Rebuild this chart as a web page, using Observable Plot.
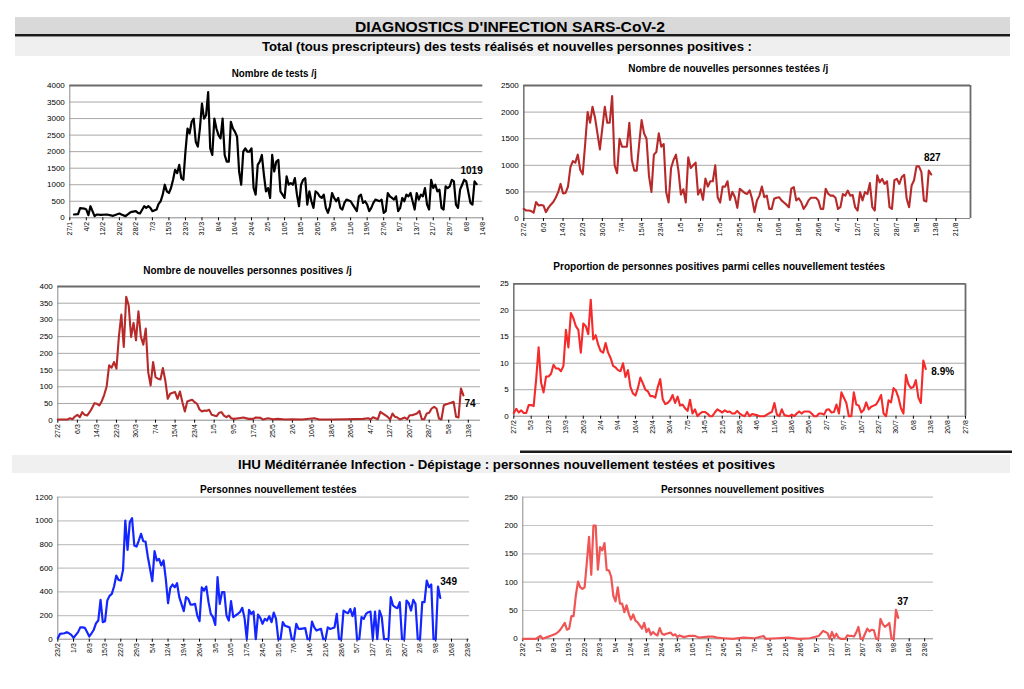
<!DOCTYPE html>
<html>
<head>
<meta charset="utf-8">
<script src="https://cdn.jsdelivr.net/npm/d3@7"></script>
<script src="https://cdn.jsdelivr.net/npm/@observablehq/plot@0.6"></script>
<style>
  html, body { margin: 0; padding: 0; background: #fff; }
  #page { position: relative; width: 1024px; height: 689px; overflow: hidden; background: #fff;
          font-family: "Liberation Sans", Arial, sans-serif; }
  #page > svg { position: absolute; left: 0; top: 0; }
</style>
</head>
<body>
<div id="page"></div>
<script>
// ---------- DATA (day offset from the series start date, value) ----------
const testsStart = "27/1";
const testsPerDay = [[2,100],[4,110],[5,290],[7,280],[8,250],[9,80],[10,350],[11,200],[12,50],[13,100],[15,90],[18,100],[21,60],[24,130],[25,100],[27,50],[29,150],[30,180],[32,200],[33,150],[34,130],[36,350],[37,300],[38,350],[39,300],[40,200],[42,250],[43,420],[44,500],[45,700],[46,1000],[47,800],[48,750],
[49,900],[50,1150],[51,1450],[52,1350],[53,1600],[54,1200],[55,1150],[56,2000],[57,2700],[58,2550],[59,2900],[60,3000],[61,2300],[62,2150],[63,2700],[64,3450],[65,3000],[66,3100],[67,3800],[68,2100],[69,1900],[70,3000],[71,2700],[72,2500],[73,2400],[74,3000],[75,1900],[76,1700],[77,1700],[78,2900],[79,2700],[80,2600],[81,2450],[82,1400],[83,1000],[84,2000],[85,2100],[86,2000],[87,2000],[88,2100],[89,900],[90,700],[91,1600],[92,1700],[93,1900],[94,1300],[95,800],[96,900],[97,600],[98,1900],[99,1400],[100,1700],[101,1750],[102,800],[103,700],[104,600],[105,1250],[106,1000],[107,1050],[108,1000],[109,1200],[110,700],[111,350],[112,1000],[113,1150],[114,1200],[115,400],[116,800],[117,500],[118,300],[119,800],[120,750],[121,650],[122,600],[123,700],[124,300],[125,150],[126,350],[127,750],[128,600],[129,500],[130,600],[131,300],[132,250],[133,450],[134,550],[136,500],[137,400],[138,300],[139,200],[140,650],[141,700],[142,450],[143,500],[144,400],[145,200],[146,300],[147,450],[148,550],[150,500],[151,550],[152,150],[153,200],[154,750],[155,650],[156,600],[157,550],[158,650],[159,200],[160,300],[161,600],[162,500],[163,700],[164,650],[165,750],[166,500],[167,250],[168,750],[169,550],[170,700],[171,650],[172,900],[173,400],[174,250],[175,1150],[176,900],[177,1000],[178,800],[179,850],[180,300],[181,250],[182,950],[183,900],[184,950],[185,1150],[186,1100],[187,400],[188,300],[189,850],[190,1000],[191,1150],[192,1100],[194,450],[195,400],[196,1100],[197,1019]];

const newTestedStart = "27/2";
const newTestedPerDay = [[0,180],[1,150],[2,150],[3,140],[4,110],[5,310],[6,245],[7,255],[8,245],[9,120],[10,200],[11,260],[12,310],[13,390],[14,495],[15,650],[16,470],[17,480],[18,600],[19,965],[20,1080],[21,1050],[22,1200],[23,915],[24,830],[25,1400],[26,2000],[27,1800],[28,2100],[29,1900],[30,1600],[31,1300],[32,1700],[33,2100],[34,1800],[35,1800],[36,2300],[37,1000],[38,850],[39,1500],[40,1350],[41,1350],[42,1350],[43,1800],[44,1100],[45,900],[46,900],[47,1400],[48,1850],[49,1600],[50,1500],[51,800],[52,500],[53,1200],[54,1250],[55,1600],[56,1350],[57,1400],[58,500],[59,300],[60,950],[61,1100],[62,1200],[63,900],[64,450],[65,550],[66,300],[67,1150],[68,950],[69,1000],[70,1050],[71,450],[72,550],[73,350],[74,750],[75,600],[76,700],[77,700],[78,1000],[79,400],[80,300],[81,600],[82,600],[83,700],[84,350],[85,500],[86,400],[87,200],[88,560],[89,520],[90,480],[91,460],[92,530],[93,370],[94,120],[95,340],[96,430],[97,600],[98,400],[99,430],[100,180],[101,180],[102,370],[103,390],[104,400],[105,340],[106,300],[107,260],[108,210],[109,560],[110,590],[111,340],[112,380],[113,310],[114,180],[115,245],[116,340],[117,390],[119,390],[120,340],[121,180],[122,180],[123,560],[124,465],[125,430],[126,430],[127,390],[128,180],[129,213],[130,460],[131,430],[132,525],[133,430],[134,440],[135,213],[136,150],[137,495],[138,340],[139,495],[140,460],[141,665],[142,213],[143,150],[144,810],[145,680],[146,745],[147,650],[148,700],[149,213],[150,180],[151,720],[152,745],[153,650],[154,780],[155,820],[156,370],[157,213],[158,620],[159,720],[160,980],[161,980],[162,870],[163,340],[164,320],[165,900],[166,827]];

const newPositiveStart = "27/2";
const newPositivePerDay = [[0,2],[4,2],[5,6],[6,3],[7,11],[8,16],[9,9],[10,24],[11,16],[12,14],[13,24],[14,36],[15,51],[16,49],[17,44],[18,57],[19,76],[20,101],[21,164],[22,157],[23,174],[24,154],[25,250],[26,316],[27,219],[28,369],[29,344],[30,249],[31,291],[32,239],[33,326],[34,250],[35,226],[36,274],[37,144],[38,104],[39,174],[40,129],[41,124],[42,122],[43,156],[44,119],[45,64],[46,79],[47,82],[48,84],[49,64],[50,86],[51,54],[52,26],[53,56],[54,59],[55,61],[56,54],[57,49],[58,32],[59,26],[60,29],[61,28],[62,31],[63,16],[64,14],[65,12],[66,22],[67,24],[68,14],[69,9],[70,14],[71,6],[72,4],[74,6],[76,8],[78,4],[80,4],[81,8],[83,7],[84,2],[86,6],[88,3],[90,4],[93,2],[96,3],[100,2],[105,6],[107,2],[112,2],[118,3],[125,4],[127,6],[128,2],[129,9],[131,3],[132,25],[134,15],[135,10],[136,2],[137,20],[138,10],[139,8],[140,2],[141,5],[142,8],[143,3],[144,15],[145,15],[147,20],[148,28],[149,3],[150,3],[151,20],[152,22],[153,35],[154,40],[155,35],[156,5],[157,2],[158,45],[159,48],[160,50],[161,52],[162,55],[163,10],[164,8],[165,95],[166,74]];

const positiveRateStart = "27/2";
const positiveRatePerDay = [[0,0.6],[1,1.4],[2,0.7],[3,1.1],[4,0.6],[5,0.6],[6,2.1],[7,2.1],[8,1.9],[9,6.9],[10,13],[11,6.3],[12,4.5],[13,7.5],[14,7.5],[15,8],[16,9.7],[17,9],[18,9],[19,8.5],[20,9.5],[21,16.3],[22,13],[23,19.5],[24,18.5],[25,17],[26,16.3],[27,12],[28,17.5],[29,17],[30,15.5],[31,22],[32,14.5],[33,15.3],[34,13.5],[35,12.3],[36,12],[37,13.8],[38,12],[39,11],[40,9.5],[41,9.2],[42,8.7],[43,8.5],[44,10],[45,7.4],[46,8.7],[47,5.5],[48,4.3],[49,3.9],[50,5.3],[51,7.3],[52,6.2],[53,5],[54,4.7],[55,3.8],[56,3.8],[57,3.5],[58,5.5],[59,7],[60,3.2],[61,2.3],[62,2.5],[63,3],[64,4],[65,2.5],[66,3.7],[67,2],[68,2.2],[69,1.5],[70,1],[71,3.1],[72,0.5],[73,1.3],[74,0],[75,0.5],[76,0.8],[77,0.8],[78,0.5],[79,0],[80,0],[81,0.7],[82,1.3],[83,1],[84,0.7],[85,1.1],[86,0.8],[87,0.9],[88,0.5],[89,0.5],[90,1],[91,0.5],[92,0.2],[93,0],[94,0.8],[95,0],[96,0.4],[97,0.3],[98,0.2],[99,0],[101,0],[103,0.6],[104,0.8],[105,2.5],[106,0.3],[107,0],[108,1.3],[109,0.2],[111,0],[112,0.3],[113,0],[114,0.5],[115,0.9],[116,0.5],[117,0.9],[119,0.9],[120,0.5],[121,0],[122,0],[123,0.5],[124,0.5],[125,0.3],[126,1.2],[127,1.3],[128,0.7],[129,0.8],[130,2.2],[131,0.5],[132,4.5],[133,3.5],[134,2.5],[135,0],[136,0],[137,4.5],[138,2.2],[139,2],[140,0.7],[141,1.2],[142,2.6],[143,1.3],[144,1.8],[145,2],[146,2.2],[147,3],[148,4],[149,0.5],[150,0],[151,3],[152,2.6],[153,5.3],[154,4.8],[155,3.5],[156,1.5],[157,0.5],[158,7.8],[159,6],[160,5.3],[161,5.5],[162,6.8],[163,3.5],[164,2.5],[165,10.5],[166,8.9]];

const ihuTestedStart = "23/2";
const ihuTestedPerDay = [[0,8],[1,45],[3,50],[4,60],[5,50],[6,37],[7,11],[9,60],[10,100],[11,100],[12,96],[13,60],[14,23],[15,50],[16,80],[17,135],[18,158],[19,332],[20,144],[21,152],[22,327],[23,366],[24,383],[25,445],[26,538],[27,501],[28,496],[29,586],[30,1003],[31,755],[32,989],[33,1023],[34,792],[35,783],[36,834],[37,890],[38,828],[39,825],[40,699],[41,594],[42,490],[43,744],[44,665],[45,679],[46,623],[47,665],[48,510],[49,304],[50,434],[51,462],[52,439],[53,473],[54,355],[56,237],[57,355],[58,341],[59,293],[60,293],[61,299],[62,200],[63,152],[64,439],[65,411],[66,445],[67,313],[68,214],[69,186],[70,121],[71,524],[72,299],[73,397],[74,397],[75,200],[76,158],[77,321],[78,186],[80,214],[81,230],[82,265],[83,180],[84,0],[85,248],[86,214],[87,234],[88,0],[89,208],[90,180],[91,130],[92,172],[93,158],[94,194],[95,144],[96,225],[97,172],[98,0],[99,0],[100,144],[101,113],[103,100],[104,0],[105,0],[106,130],[107,87],[108,87],[110,93],[111,0],[112,0],[113,149],[114,100],[115,73],[116,82],[117,87],[118,0],[119,0],[120,100],[121,87],[122,93],[123,100],[124,214],[125,0],[126,0],[127,242],[128,228],[129,220],[130,256],[131,194],[132,262],[133,0],[134,0],[135,186],[136,172],[137,214],[138,228],[139,234],[140,0],[141,234],[142,0],[143,242],[144,186],[145,0],[146,0],[147,0],[148,355],[149,285],[150,270],[151,262],[152,313],[153,0],[154,0],[155,327],[156,304],[157,242],[158,332],[159,299],[160,0],[161,0],[162,313],[163,313],[164,496],[165,439],[166,462],[167,0],[168,0],[169,445],[170,349]];

const ihuPositiveStart = "23/2";
const ihuPositivePerDay = [[0,0],[6,0],[8,5],[9,0],[11,3],[13,6],[15,9],[16,12],[17,16],[19,28],[20,16],[21,18],[22,40],[23,40],[24,76],[25,101],[26,91],[27,88],[28,91],[29,135],[30,180],[31,113],[32,200],[33,200],[34,122],[35,162],[36,156],[37,169],[38,121],[39,121],[40,110],[41,76],[42,66],[43,91],[44,62],[45,62],[46,47],[47,59],[48,44],[49,34],[50,43],[51,32],[52,29],[54,18],[55,28],[56,12],[57,18],[58,7],[59,12],[60,8],[61,6],[62,19],[63,9],[64,7],[65,9],[67,11],[68,6],[69,8],[70,3],[71,6],[73,3],[75,5],[78,5],[80,2],[84,4],[86,4],[88,2],[91,1],[95,0],[100,2],[105,1],[109,5],[110,0],[115,1],[120,2],[125,0],[130,1],[134,5],[136,14],[137,12],[138,10],[139,0],[140,12],[141,2],[142,9],[143,2],[144,0],[145,0],[146,0],[147,6],[148,5],[149,5],[150,4],[151,11],[152,21],[153,0],[154,0],[155,9],[156,18],[157,13],[158,16],[159,15],[160,0],[161,0],[162,35],[163,26],[164,21],[165,24],[166,28],[167,0],[168,0],[169,51],[170,37]];

// ---------- TICK LABELS ----------
const testsTicks = ["27/1","4/2","12/2","20/2","28/2","7/3","15/3","23/3","31/3","8/4","16/4","24/4","2/5","10/5","18/5","26/5","3/6","11/6","19/6","27/6","5/7","13/7","21/7","29/7","6/8","14/8"];
const newTestedTicks = ["27/2","6/3","14/3","22/3","30/3","7/4","15/4","23/4","1/5","9/5","17/5","25/5","2/6","10/6","18/6","26/6","4/7","12/7","20/7","28/7","5/8","13/8","21/8"];
const newPositiveTicks = ["27/2","6/3","14/3","22/3","30/3","7/4","15/4","23/4","1/5","9/5","17/5","25/5","2/6","10/6","18/6","26/6","4/7","12/7","20/7","28/7","5/8","13/8"];
const positiveRateTicks = ["27/2","5/3","12/3","19/3","26/3","2/4","9/4","16/4","23/4","30/4","7/5","14/5","21/5","28/5","4/6","11/6","18/6","25/6","2/7","9/7","16/7","23/7","30/7","6/8","13/8","20/8","27/8"];
const ihuTicks = ["23/2","1/3","8/3","15/3","22/3","29/3","5/4","12/4","19/4","26/4","3/5","10/5","17/5","24/5","31/5","7/6","14/6","21/6","28/6","5/7","12/7","19/7","26/7","2/8","9/8","16/8","23/8"];

// ---------- TEXTS ----------
const mainTitle = "DIAGNOSTICS D'INFECTION SARS-CoV-2";
const section1Title = "Total (tous prescripteurs) des tests réalisés et nouvelles personnes positives :";
const section2Title = "IHU Méditérranée Infection - Dépistage : personnes nouvellement testées et positives";

// ---------- HELPERS ----------
const parseDM = s => { const [d, m] = s.split("/").map(Number); return new Date(Date.UTC(2020, m - 1, d)); };
const fromStart = (start, day) => new Date(parseDM(start).getTime() + day * 864e5);
const tickFmt = d => `${d.getUTCDate()}/${d.getUTCMonth() + 1}`;
const FONT = "'Liberation Sans', Arial, sans-serif";
const page = document.getElementById("page");

// ---------- OVERLAY (bands, headings, panel titles) ----------
const over = d3.create("svg").attr("width", 1024).attr("height", 689).style("font-family", FONT);
over.append("rect").attr("x", 15).attr("y", 17).attr("width", 995).attr("height", 17).attr("fill", "#d9d9d9");
over.append("rect").attr("x", 15).attr("y", 34).attr("width", 995).attr("height", 2.5).attr("fill", "#1a1a1a");
over.append("rect").attr("x", 15).attr("y", 37).attr("width", 995).attr("height", 19).attr("fill", "#efefef");
over.append("rect").attr("x", 520).attr("y", 450.5).attr("width", 492).attr("height", 2.5).attr("fill", "#1a1a1a");
over.append("rect").attr("x", 12).attr("y", 455).attr("width", 998).attr("height", 18).attr("fill", "#f0f0f0");

function label(txt, x0, x1, baseline, size) {
  over.append("text").attr("x", (x0 + x1) / 2).attr("y", baseline).attr("text-anchor", "middle")
    .attr("font-size", size).attr("font-weight", "bold").attr("fill", "#000")
    .attr("textLength", x1 - x0).attr("lengthAdjust", "spacingAndGlyphs").text(txt);
}
label(mainTitle, 355, 665, 32, 14);
label(section1Title, 262, 752, 51, 13);
label(section2Title, 238, 775, 469, 13);

page.appendChild(over.node());

// ---------- PANELS ----------
function drawPanel(c) {
  const pts = c.data.map(([d, v]) => ({date: fromStart(c.start, d), value: v}));
  const last = pts[pts.length - 1];
  const yTicks = d3.range(0, c.yMax + c.yStep / 2, c.yStep);
  const d0 = parseDM(c.domain[0]), d1 = parseDM(c.domain[1]);
  const marks = [
    Plot.ruleY(yTicks.filter(t => t > 0 && (t < c.yMax || c.frame === "none")), {stroke: c.grid, strokeWidth: c.gridWidth}),
    Plot.ruleY([0], {stroke: "#8a8a8a", strokeWidth: 1}),
    Plot.ruleX([d0], {stroke: "#8a8a8a", strokeWidth: 1}),
    c.frame !== "none" ? Plot.ruleY([c.yMax], {stroke: "#6a6a6a", strokeWidth: 1.8}) : null,
    c.frame === "box" ? Plot.ruleX([d1], {stroke: "#6a6a6a", strokeWidth: 1.8}) : null,
    c.frame === "box" ? Plot.ruleX([d0], {stroke: "#6a6a6a", strokeWidth: 1.2}) : null,
    Plot.axisY({ticks: yTicks, tickFormat: d => String(d), tickSize: 0, tickPadding: 5, fontSize: 8, label: null}),
    Plot.axisX({ticks: c.xTicks.map(parseDM), tickFormat: tickFmt, tickRotate: -90, tickSize: 3,
                tickPadding: 1, fontSize: 7, label: null}),
    Plot.line(pts, {x: "date", y: "value", stroke: c.color, strokeWidth: c.lw, strokeLinejoin: "round"}),
    Plot.text([last], {x: "date", y: "value", text: d => c.fmt(d.value), dx: c.ldx, dy: c.ldy,
                       textAnchor: c.lanchor, fontWeight: "bold", fontSize: 10, fill: "#000"})
  ];
  const svg = Plot.plot({
    width: 1024, height: 689,
    marginLeft: c.x0, marginRight: 1024 - c.x1, marginTop: c.y0, marginBottom: 689 - c.y1,
    x: {type: "utc", domain: [d0, d1]},
    y: {domain: [0, c.yMax]},
    style: `position:absolute;left:0;top:0;background:transparent;overflow:visible;font-family:${FONT};color:#000;`,
    marks
  });
  page.appendChild(svg);
  over.append("text").attr("x", (c.t[0] + c.t[1]) / 2).attr("y", c.t[2]).attr("text-anchor", "middle")
    .attr("font-size", 10).attr("font-weight", "bold").attr("fill", "#000")
    .attr("textLength", c.t[1] - c.t[0]).attr("lengthAdjust", "spacingAndGlyphs").text(c.title);
}

const asInt = v => String(v);
drawPanel({title: "Nombre de tests /j", t: [231.7, 316.7, 77], data: testsPerDay, start: testsStart,
  x0: 69.3, x1: 482.3, y0: 85, y1: 217.3, domain: ["27/1", "14/8"], yMax: 4000, yStep: 500,
  xTicks: testsTicks, color: "#000000", lw: 2.2, grid: "#a8a8a8", gridWidth: 1, frame: "top",
  fmt: asInt, ldx: -5, ldy: -13, lanchor: "middle"});
drawPanel({title: "Nombre de nouvelles personnes testées /j", t: [628.3, 828.3, 72], data: newTestedPerDay, start: newTestedStart,
  x0: 523.3, x1: 970, y0: 85, y1: 218, domain: ["27/2", "27/8"], yMax: 2500, yStep: 500,
  xTicks: newTestedTicks, color: "#b82a2a", lw: 2.1, grid: "#a8a8a8", gridWidth: 1, frame: "box",
  fmt: asInt, ldx: 1, ldy: -16.5, lanchor: "middle"});
drawPanel({title: "Nombre de nouvelles personnes positives /j", t: [143.3, 351.7, 273.5], data: newPositivePerDay, start: newPositiveStart,
  x0: 57.3, x1: 480, y0: 286, y1: 419.7, domain: ["27/2", "18/8"], yMax: 400, yStep: 50,
  xTicks: newPositiveTicks, color: "#b82a2a", lw: 2.1, grid: "#a8a8a8", gridWidth: 1, frame: "top",
  fmt: asInt, ldx: 1, ldy: 8.5, lanchor: "start"});
drawPanel({title: "Proportion de personnes positives parmi celles nouvellement testées", t: [553.3, 885, 270], data: positiveRatePerDay, start: positiveRateStart,
  x0: 513.3, x1: 965, y0: 283.3, y1: 415.7, domain: ["27/2", "27/8"], yMax: 25, yStep: 5,
  xTicks: positiveRateTicks, color: "#f52a2a", lw: 2.1, grid: "#a8a8a8", gridWidth: 1, frame: "box",
  fmt: v => v.toFixed(1) + "%", ldx: 5.5, ldy: 3, lanchor: "start"});
drawPanel({title: "Personnes nouvellement testées", t: [200, 356.7, 493], data: ihuTestedPerDay, start: ihuTestedStart,
  x0: 57.3, x1: 469, y0: 496.7, y1: 638.7, domain: ["23/2", "24/8"], yMax: 1200, yStep: 200,
  xTicks: ihuTicks, color: "#1426ff", lw: 2.2, grid: "#c4c4c4", gridWidth: 1.2, frame: "none",
  fmt: asInt, ldx: 0, ldy: -16, lanchor: "start"});
drawPanel({title: "Personnes nouvellement positives", t: [661, 824.3, 493], data: ihuPositivePerDay, start: ihuPositiveStart,
  x0: 522.3, x1: 933, y0: 496.7, y1: 638.3, domain: ["23/2", "27/8"], yMax: 250, yStep: 50,
  xTicks: ihuTicks, color: "#f05555", lw: 2.2, grid: "#c4c4c4", gridWidth: 1.2, frame: "none",
  fmt: asInt, ldx: -1, ldy: -16, lanchor: "start"});
</script>
</body>
</html>
